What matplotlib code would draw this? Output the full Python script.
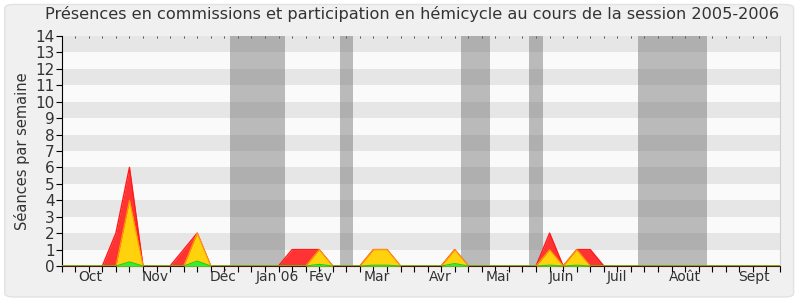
import matplotlib.pyplot as plt
from matplotlib.patches import FancyBboxPatch

# weekly values, week 0 .. 53
weeks = list(range(54))
total = [0, 0, 0, 0, 2, 6, 0, 0, 0, 1, 2, 0, 0, 0, 0, 0, 0, 1, 1, 1,
         0, 0, 0, 1, 1, 0, 0, 0, 0, 1, 0, 0, 0, 0, 0, 0, 2, 0, 1, 1,
         0, 0, 0, 0, 0, 0, 0, 0, 0, 0, 0, 0, 0, 0]
commission = [0, 0, 0, 0, 0, 4, 0, 0, 0, 0, 2, 0, 0, 0, 0, 0, 0, 0, 0, 1,
              0, 0, 0, 1, 1, 0, 0, 0, 0, 1, 0, 0, 0, 0, 0, 0, 1, 0, 1, 0,
              0, 0, 0, 0, 0, 0, 0, 0, 0, 0, 0, 0, 0, 0]
hemicycle = [0, 0, 0, 0, 0, 0.25, 0, 0, 0, 0, 0.3, 0, 0, 0, 0, 0, 0, 0, 0, 0.1,
             0, 0, 0, 0.05, 0.05, 0, 0, 0, 0, 0.15, 0, 0, 0, 0, 0, 0, 0.05, 0, 0.05, 0,
             0, 0, 0, 0, 0, 0, 0, 0, 0, 0, 0, 0, 0, 0]

# parliamentary holidays (in weeks)
vacances = [(12.4, 16.5), (20.5, 21.5), (29.5, 31.6), (34.5, 35.5), (42.5, 47.6)]

mois = ['Oct', 'Nov', 'Déc', 'Jan 06', 'Fév', 'Mar', 'Avr', 'Mai', 'Juin', 'Juil', 'Août', 'Sept']
mois_pos = [2.1, 6.9, 11.9, 15.9, 19.1, 23.25, 27.95, 32.2, 36.9, 41.0, 46.0, 51.05]

fig = plt.figure(figsize=(8, 3), dpi=100)
fig.patch.set_facecolor('white')
bg = FancyBboxPatch((0.006, 0.01), 0.986, 0.975, boxstyle='round,pad=0,rounding_size=0.012',
                    transform=fig.transFigure, facecolor='#f0f0f0', edgecolor='#e2e2e2',
                    linewidth=1, zorder=-10)
fig.patches.append(bg)

ax = fig.add_axes([0.0771, 0.1133, 0.8979, 0.7667])
ax.set_facecolor('#fafafa')

# horizontal stripes
for k in range(1, 14, 2):
    ax.axhspan(k, k + 1, color='#e6e6e6', lw=0, zorder=0)

for a, b in vacances:
    ax.axvspan(a, b, color='#6e6e6e', alpha=0.45, lw=0, zorder=1)

ax.fill_between(weeks, total, color='#ff3333', lw=0, zorder=2)
ax.plot(weeks, total, color='#ff1a1a', lw=1, zorder=3)
ax.fill_between(weeks, commission, color='#ffd20d', lw=0, zorder=4)
ax.plot(weeks, commission, color='#ff9900', lw=0.8, zorder=5)
ax.fill_between(weeks, hemicycle, color='#33ee33', lw=0, zorder=6)
ax.plot(weeks, hemicycle, color='#22cc22', lw=0.8, zorder=7)

ax.set_xlim(0, 53)
ax.set_ylim(0, 14)
ax.set_yticks(range(15))
ax.xaxis.remove_overlapping_locs = False
ax.set_xticks(weeks)
ax.set_xticklabels([])
ax.set_xticks(mois_pos, minor=True)
ax.set_xticklabels(mois, minor=True)
ax.tick_params(axis='x', which='major', direction='out', length=4, width=0.8, color='black')
ax.tick_params(axis='x', which='minor', length=0, pad=3, labelsize=10, labelcolor='#333333')
ax.tick_params(axis='y', direction='out', length=4, width=0.8, pad=1,
               labelsize=11, labelcolor='#333333')

top = ax.secondary_xaxis('top')
top.set_xticks(weeks)
top.set_xticklabels([])
top.tick_params(direction='in', length=1.2, width=0.6, color='#333333')
top.spines['top'].set_visible(False)

ax.spines['top'].set_visible(False)
ax.spines['right'].set_color('#d0d0d0')
ax.spines['bottom'].set_color('#4a1a0a')
ax.spines['left'].set_color('black')

ax.set_ylabel('Séances par semaine', fontsize=10.5, color='#333333', labelpad=4)
fig.text(0.515, 0.952, 'Présences en commissions et participation en hémicycle au cours de la session 2005-2006',
         ha='center', va='center', fontsize=11.6, color='#333333')

fig.savefig('out.png', dpi=100, facecolor=fig.get_facecolor())
